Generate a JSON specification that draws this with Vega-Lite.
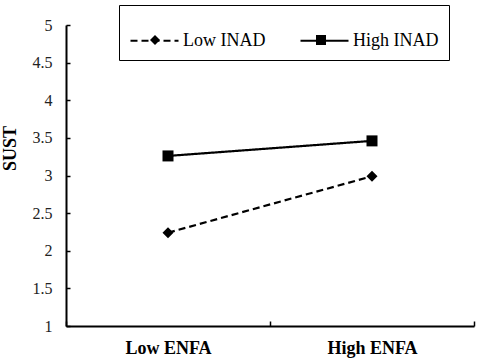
{
  "$schema": "https://vega.github.io/schema/vega-lite/v6.json",
  "width": 408,
  "height": 301,
  "autosize": {"type": "none"},
  "padding": {"left": 66, "top": 25, "right": 6, "bottom": 34},
  "background": "white",
  "config": {"view": {"stroke": null}, "font": "Liberation Serif"},
  "data": {
    "values": [
      {"ENFA": "Low ENFA", "INAD": "Low INAD", "SUST": 2.24},
      {"ENFA": "High ENFA", "INAD": "Low INAD", "SUST": 2.99},
      {"ENFA": "Low ENFA", "INAD": "High INAD", "SUST": 3.26},
      {"ENFA": "High ENFA", "INAD": "High INAD", "SUST": 3.46}
    ]
  },
  "encoding": {
    "x": {
      "field": "ENFA",
      "type": "nominal",
      "sort": ["Low ENFA", "High ENFA"],
      "bandPosition": 0.5,
      "scale": {"type": "band", "paddingInner": 0, "paddingOuter": 0},
      "axis": {
        "title": null,
        "labelAngle": 0,
        "tickBand": "extent",
        "domainColor": "black",
        "domainWidth": 2,
        "tickColor": "black",
        "tickWidth": 1.5,
        "tickSize": -5,
        "labelFont": "Liberation Serif",
        "labelFontSize": 18,
        "labelFontWeight": "bold",
        "labelColor": "black",
        "labelPadding": 18
      }
    },
    "y": {
      "field": "SUST",
      "type": "quantitative",
      "scale": {"domain": [1, 5], "nice": false, "zero": false},
      "axis": {
        "values": [1, 1.5, 2, 2.5, 3, 3.5, 4, 4.5, 5],
        "format": "~g",
        "grid": false,
        "domainColor": "black",
        "domainWidth": 2,
        "tickColor": "black",
        "tickWidth": 1.5,
        "tickSize": -4,
        "labelFont": "Liberation Serif",
        "labelFontSize": 16,
        "labelColor": "#222",
        "labelPadding": 18,
        "title": "SUST",
        "titleFont": "Liberation Serif",
        "titleFontSize": 18,
        "titleFontWeight": "bold",
        "titleColor": "black",
        "titleAngle": -90,
        "titleX": -51,
        "titleY": 123,
        "titleAlign": "center",
        "titleBaseline": "alphabetic"
      }
    }
  },
  "layer": [
    {
      "mark": {"type": "line", "color": "black", "strokeWidth": 2.2},
      "encoding": {
        "strokeDash": {
          "field": "INAD",
          "type": "nominal",
          "sort": ["Low INAD", "High INAD"],
          "scale": {"range": [[7, 4], [1, 0]]},
          "legend": {
            "title": null,
            "orient": "none",
            "legendX": 53,
            "legendY": -20,
            "direction": "horizontal",
            "columns": 2,
            "columnPadding": 30,
            "padding": 10,
            "strokeColor": "black",
            "symbolType": "stroke",
            "symbolSize": 2304,
            "symbolStrokeColor": "black",
            "symbolStrokeWidth": 2.2,
            "symbolOffset": 0,
            "labelOffset": 3,
            "labelFont": "Liberation Serif",
            "labelFontSize": 18,
            "labelColor": "black",
            "labelLimit": 200
          }
        }
      }
    },
    {
      "mark": {"type": "point", "filled": true, "color": "black", "opacity": 1, "size": 121},
      "encoding": {
        "shape": {
          "field": "INAD",
          "type": "nominal",
          "scale": {"domain": ["Low INAD", "High INAD"], "range": ["diamond", "square"]},
          "legend": {
            "title": null,
            "orient": "none",
            "legendX": 70,
            "legendY": -4,
            "direction": "horizontal",
            "columns": 2,
            "columnPadding": 42,
            "padding": 10,
            "symbolSize": 100,
            "symbolFillColor": "black",
            "symbolStrokeColor": "black",
            "symbolStrokeWidth": 0,
            "symbolOffset": 0,
            "labelOffset": 23,
            "labelFont": "Liberation Serif",
            "labelFontSize": 18,
            "labelColor": "black",
            "labelOpacity": 0,
            "labelLimit": 200
          }
        }
      }
    }
  ]
}
